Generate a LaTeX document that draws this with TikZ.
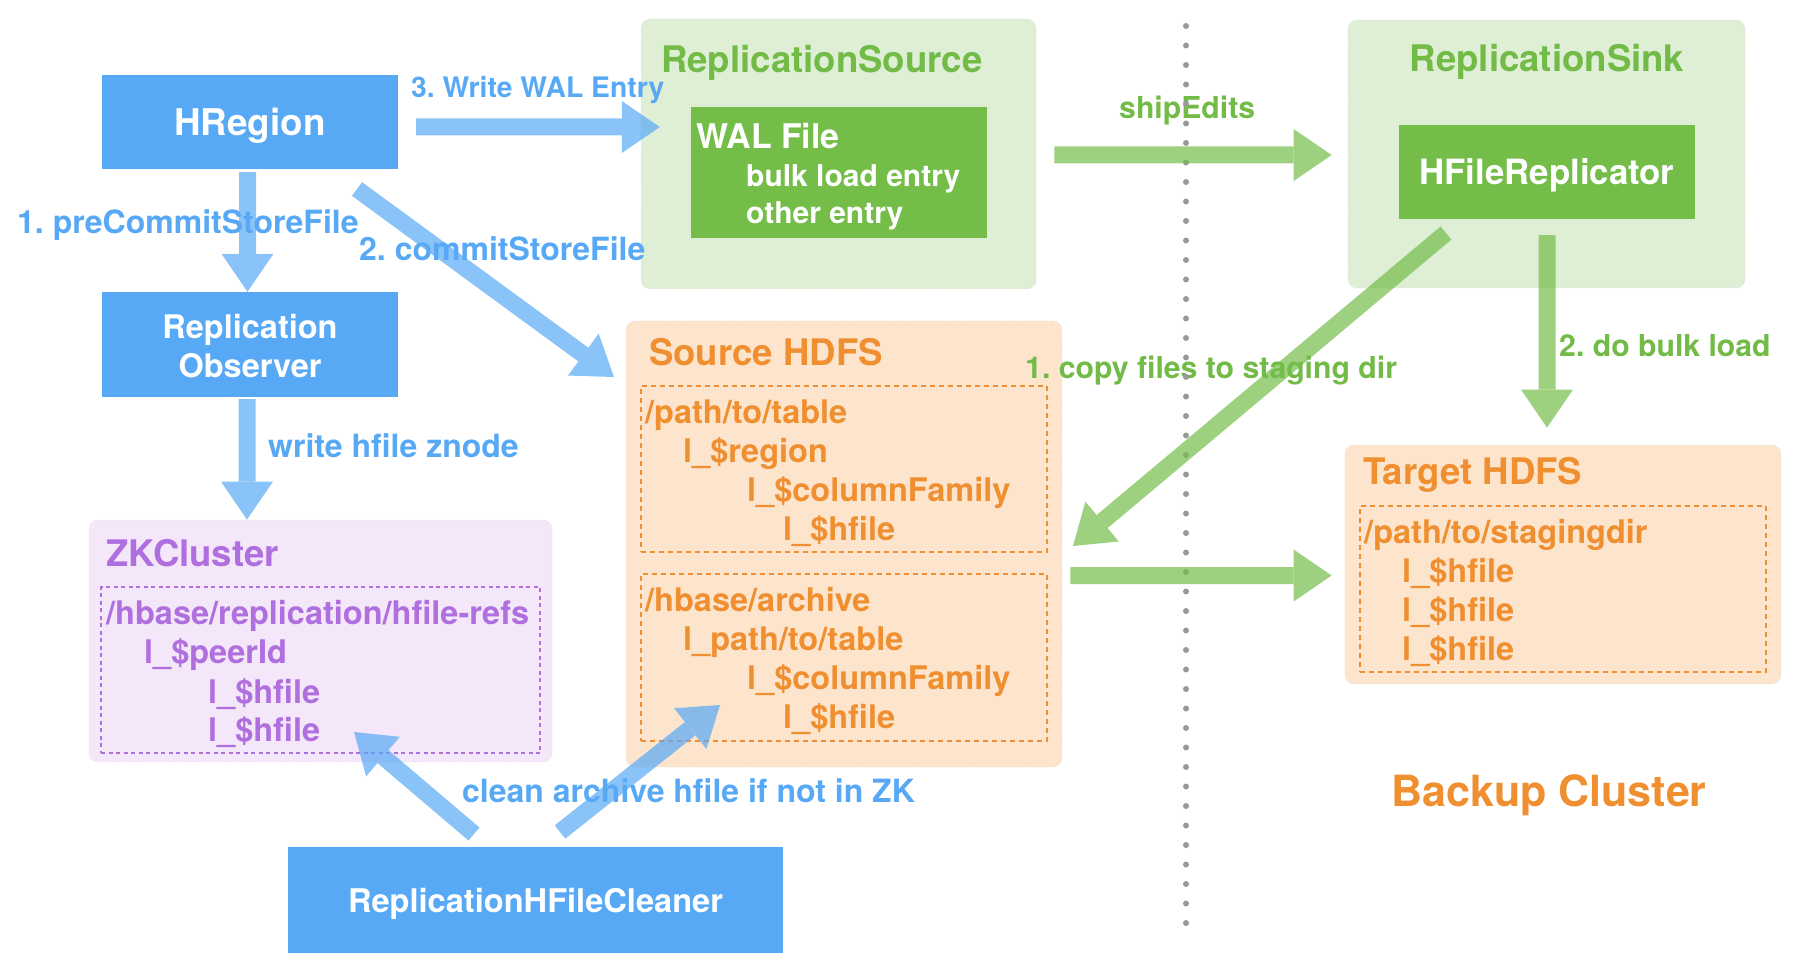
\documentclass[tikz,border=0pt]{standalone}
\usepackage{fontspec}
\setmainfont{TeX Gyre Heros}
\frenchspacing
\usetikzlibrary{arrows.meta}
\definecolor{boxblue}{HTML}{58A9F5}
\definecolor{dgreen}{HTML}{73BD48}
\definecolor{lgreen}{HTML}{DEEFD6}
\definecolor{gtext}{HTML}{72BB47}
\definecolor{orfill}{HTML}{FCE4CD}
\definecolor{ortext}{HTML}{F08F30}
\definecolor{pufill}{HTML}{F3E7F9}
\definecolor{putext}{HTML}{B06FDE}
\definecolor{dotgray}{HTML}{999999}
\begin{document}
\begin{tikzpicture}[x=1pt,y=-1pt,
  bluebox/.style={fill=boxblue, text=white, inner sep=0pt, align=center,
    font=\frenchspacing\bfseries\fontsize{32.5}{39}\selectfont},
  greenbox/.style={fill=dgreen, text=white, inner sep=0pt},
  container/.style={rounded corners=9, draw=black!12, dotted, line width=0.8pt, inner sep=0pt},
  dbox/.style={line width=2pt, dash pattern=on 5pt off 4pt, inner sep=0pt},
  txt/.style={anchor=base west, inner sep=0pt, yshift=-1.2pt, font=\frenchspacing\bfseries\fontsize{32.5}{38}\selectfont},
  ttl/.style={anchor=base west, inner sep=0pt, yshift=-1.2pt, font=\frenchspacing\bfseries\fontsize{36.6}{42}\selectfont},
  lbl/.style={anchor=base west, inner sep=0pt, yshift=-1.2pt, font=\frenchspacing\bfseries\fontsize{32}{36}\selectfont},
  glbl/.style={anchor=base west, inner sep=0pt, yshift=-1.2pt, text=gtext, font=\frenchspacing\bfseries\fontsize{30.2}{36}\selectfont},
  barrow/.style={line width=17pt, draw=boxblue, -{Triangle[length=38pt, width=52pt, line width=0pt]}},
  garrow/.style={line width=17pt, draw=dgreen, -{Triangle[length=38pt, width=52pt, line width=0pt]}}
]
\useasboundingbox (0,0) rectangle (1814,973);

% ---------------- containers ----------------
\node[container, fill=lgreen, minimum width=395, minimum height=270] (rsrc) at (838.5,154) {};
\node[container, fill=lgreen, minimum width=397, minimum height=268] (rsink) at (1546.5,154) {};
\node[container, fill=orfill, minimum width=436, minimum height=446] (shdfs) at (844,544) {};
\node[container, fill=orfill, minimum width=436, minimum height=239] (thdfs) at (1563,564.5) {};
\node[container, fill=pufill, minimum width=463, minimum height=242] (zk) at (320.5,641) {};

\node[dbox, draw=ortext, minimum width=406, minimum height=166] (sd1) at (844,469) {};
\node[dbox, draw=ortext, minimum width=406, minimum height=167] (sd2) at (844,657.5) {};
\node[dbox, draw=ortext, minimum width=406, minimum height=166] (td) at (1563,589) {};
\node[dbox, draw=putext, line width=1.6pt, dash pattern=on 4pt off 3.5pt, minimum width=439, minimum height=166] (zkd) at (320.5,670) {};

% ---------------- solid boxes ----------------
\node[bluebox, minimum width=296, minimum height=94, text height=28pt, text depth=0pt, font=\bfseries\fontsize{36.8}{42}\selectfont] (hregion) at (250,122) {HRegion};
\node[bluebox, minimum width=296, minimum height=105, text height=65pt, text depth=0pt] (obs) at (250,344.5) {Replication\\Observer};
\node[bluebox, minimum width=495, minimum height=106, text height=24pt, text depth=0pt, font=\bfseries\fontsize{32.6}{39}\selectfont] (cleaner) at (535.5,900) {ReplicationHFileCleaner};
\node[greenbox, minimum width=296, minimum height=131] (wal) at (839,172.5) {};
\node[greenbox, minimum width=296, minimum height=94, text height=26pt, text depth=0pt, font=\bfseries\fontsize{34.8}{40}\selectfont] (hfr) at (1547,172) {HFileReplicator};

% ---------------- titles & texts ----------------
\node[ttl, text=gtext] (rsrcT) at (661,71) {ReplicationSource};
\node[ttl, text=gtext, anchor=base] (rsinkT) at (1547,70) {ReplicationSink};
\node[ttl, text=ortext] (shdfsT) at (649,364) {Source HDFS};
\node[ttl, text=ortext] (thdfsT) at (1363,483) {Target HDFS};
\node[ttl, text=putext] (zkT) at (106,565) {ZKCluster};

\node[txt, text=white, font=\bfseries\fontsize{34}{38}\selectfont] (walT) at (696,147) {WAL File};
\node[txt, text=white, font=\bfseries\fontsize{30}{36}\selectfont] (walA) at (746,185) {bulk load entry};
\node[txt, text=white, font=\bfseries\fontsize{30}{36}\selectfont] (walB) at (746,222) {other entry};

\node[txt, text=ortext] (p1) at (645,422) {/path/to/table};
\node[txt, text=ortext] (p2) at (683,461) {l\_\$region};
\node[txt, text=ortext] (p3) at (747,500) {l\_\$columnFamily};
\node[txt, text=ortext] (p4) at (783,539) {l\_\$hfile};
\node[txt, text=ortext] (q1) at (645,610) {/hbase/archive};
\node[txt, text=ortext] (q2) at (683,649) {l\_path/to/table};
\node[txt, text=ortext] (q3) at (747,688) {l\_\$columnFamily};
\node[txt, text=ortext] (q4) at (783,727) {l\_\$hfile};

\node[txt, text=ortext] (t1) at (1364,542) {/path/to/stagingdir};
\node[txt, text=ortext] (t2) at (1402,581) {l\_\$hfile};
\node[txt, text=ortext] (t3) at (1402,620) {l\_\$hfile};
\node[txt, text=ortext] (t4) at (1402,659) {l\_\$hfile};

\node[txt, text=putext] (z1) at (106,623) {/hbase/replication/hfile-refs};
\node[txt, text=putext] (z2) at (144,662) {l\_\$peerId};
\node[txt, text=putext] (z3) at (208,702) {l\_\$hfile};
\node[txt, text=putext] (z4) at (208,740) {l\_\$hfile};

\node[anchor=base west, inner sep=0pt, yshift=-1.2pt, text=ortext, font=\bfseries\fontsize{43}{50}\selectfont] (backup) at (1391,805) {Backup Cluster};

% ---------------- connector labels ----------------
\node[lbl, text=boxblue, font=\frenchspacing\bfseries\fontsize{28.3}{34}\selectfont] (l3) at (411,96) {3. Write WAL Entry};
\node[lbl, text=boxblue] (l1) at (17,232) {1. preCommitStoreFile};
\node[lbl, text=boxblue] (l2) at (359,259) {2. commitStoreFile};
\node[lbl, text=boxblue] (lz) at (268,456) {write hfile znode};
\node[lbl, text=boxblue] (lc) at (462,801) {clean archive hfile if not in ZK};
\node[glbl] (ls) at (1119,117) {shipEdits};
\node[glbl] (lcp) at (1025,377) {1. copy files to staging dir};
\node[glbl] (lb) at (1559,355) {2. do bulk load};

% ---------------- dotted separator ----------------
\coordinate (dtop) at (1186,26);
\coordinate (dbot) at (1186,925);
\draw[dotgray, line width=6pt, line cap=round, dash pattern=on 0pt off 19.5pt] (dtop) -- (dbot);

% ---------------- arrow end points ----------------
\coordinate (a2s) at (357,189);
\coordinate (a2e) at (614,377);
\coordinate (cps) at (1446,233);
\coordinate (cpe) at (1073,546);
\coordinate (c1s) at (474,834);
\coordinate (c1e) at (354,732);
\coordinate (c2s) at (560,832);
\coordinate (c2e) at (720,705);

% ---------------- blue arrows ----------------
\begin{scope}[transparency group, opacity=0.7]
\draw[barrow, shorten <=3pt] ([xshift=-2.5pt]hregion.south) -- ([xshift=-2.5pt]obs.north);
\draw[barrow, shorten <=2pt] ([xshift=-3pt]obs.south) -- ([xshift=-3pt]obs.south |- zk.north);
\draw[barrow, shorten <=18pt, shorten >=31pt] ([yshift=-5pt]hregion.east) -- ([yshift=-5pt]hregion.east -| wal.west);
\draw[barrow] (a2s) -- (a2e);
\draw[barrow] (c1s) -- (c1e);
\draw[barrow] (c2s) -- (c2e);
\end{scope}

% ---------------- green arrows ----------------
\begin{scope}[transparency group, opacity=0.7]
\draw[garrow, shorten <=18pt, shorten >=16pt] ([yshift=-1pt]rsrc.east) -- ([yshift=-1pt]rsrc.east -| rsink.west);
\draw[garrow] (cps) -- (cpe);
\draw[garrow, shorten <=16pt, shorten >=17pt] (hfr.south) -- (hfr.south |- thdfs.north);
\draw[garrow, shorten <=8pt, shorten >=13pt] ([yshift=-31.5pt]shdfs.east) -- ([yshift=-31.5pt]shdfs.east -| thdfs.west);
\end{scope}
\end{tikzpicture}
\end{document}
